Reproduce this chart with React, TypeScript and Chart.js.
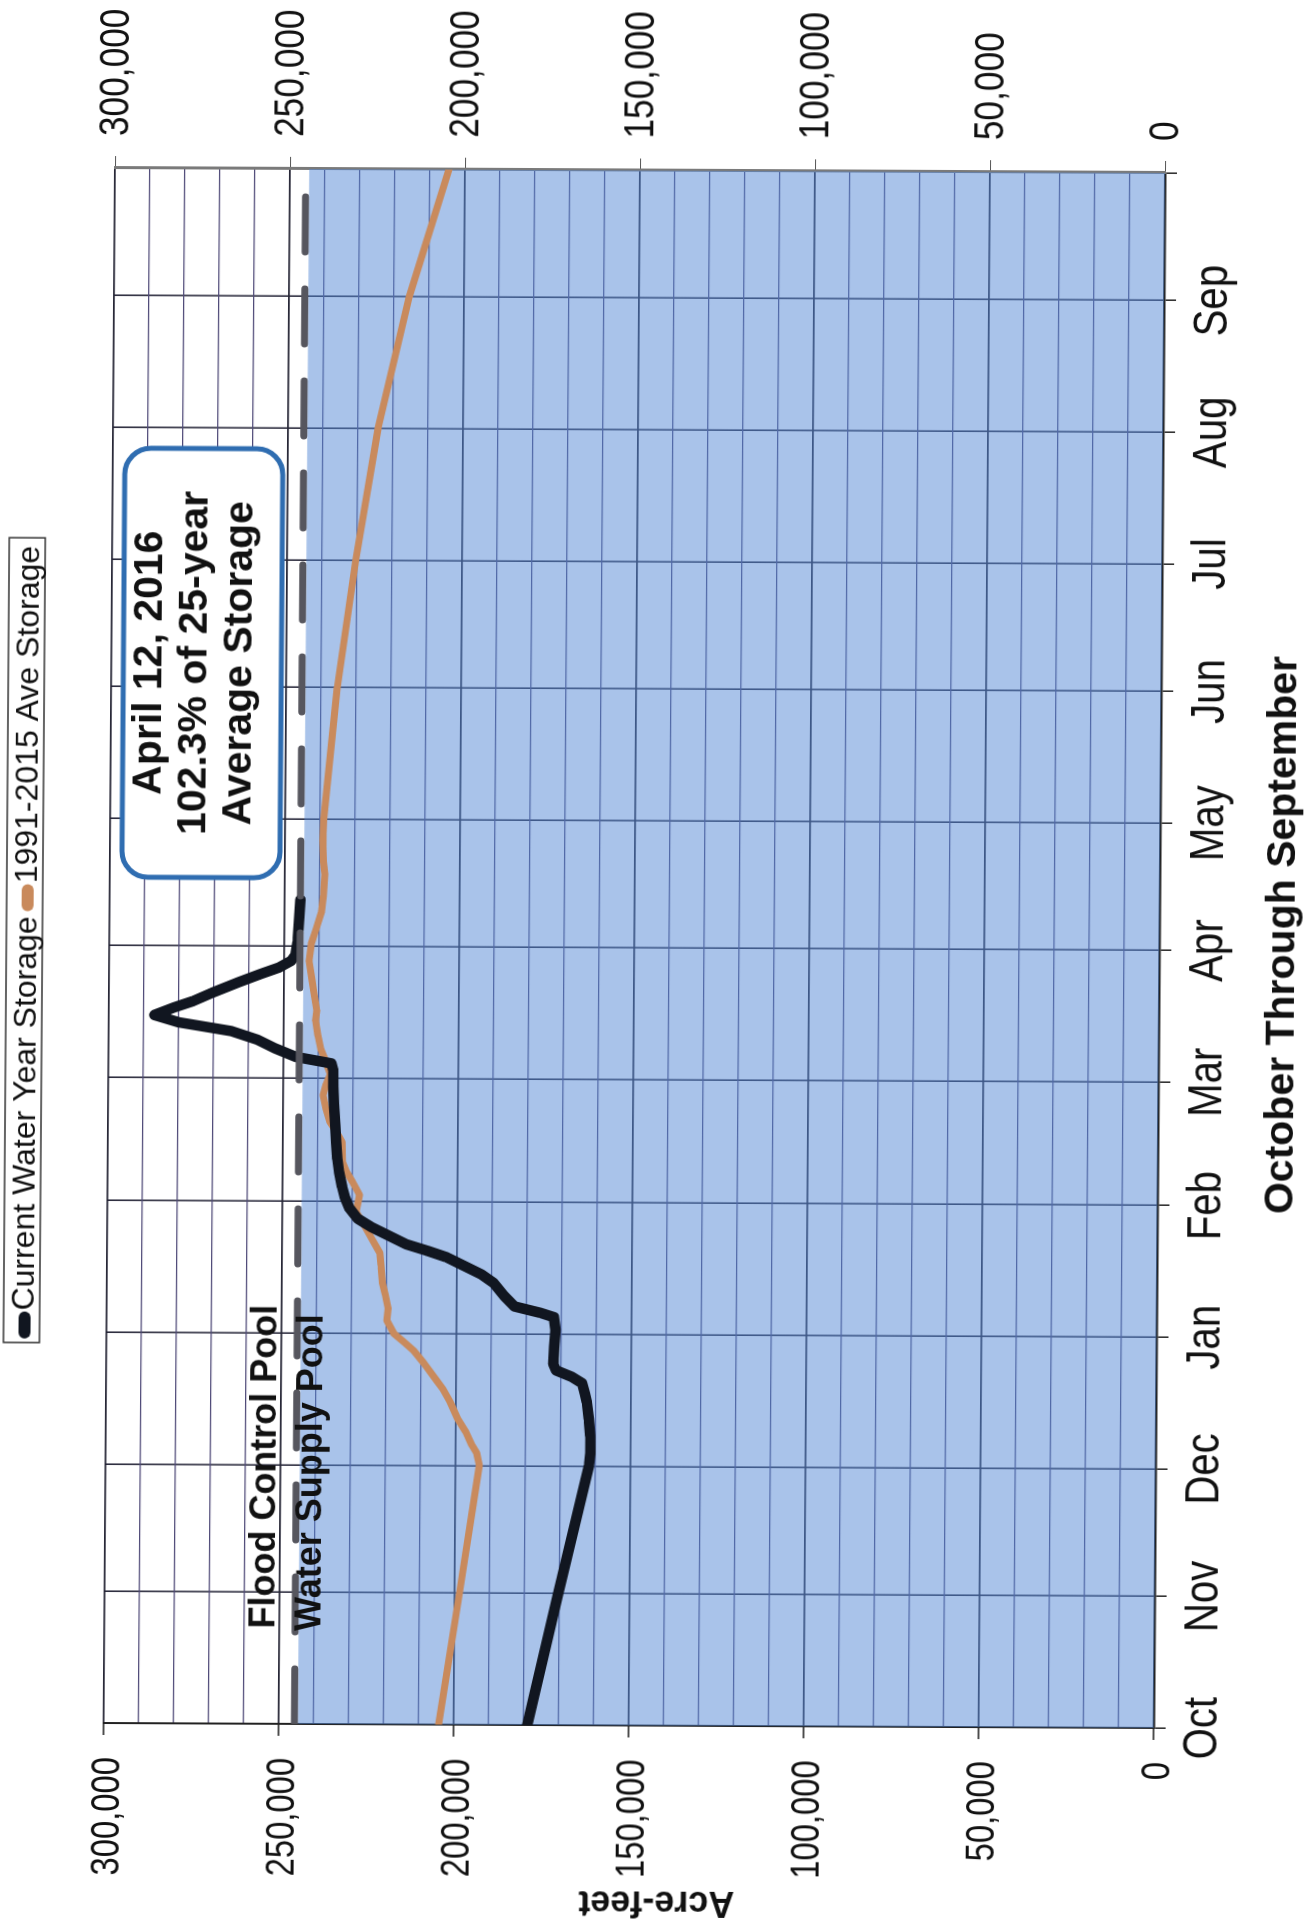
import { useEffect, useRef } from "react";
import { Chart, registerables } from "chart.js";

Chart.register(...registerables);

// ---- Data ----
// x = day of the water year (0 = Oct 1, 2015; 366 = Oct 1, 2016)
const monthLabels = ["Oct", "Nov", "Dec", "Jan", "Feb", "Mar", "Apr", "May", "Jun", "Jul", "Aug", "Sep", ""];
const monthStartDays = [0, 31, 61, 92, 123, 152, 183, 213, 244, 274, 305, 336, 366];

const currentDays = [
  0, 31, 61, 64, 68, 72, 76, 78, 80.5, 82, 83.5, 85, 89, 93, 96, 97, 98.5, 101, 104, 106, 108, 110,
  111.5, 113, 115, 117, 119, 121.5, 124, 126.5, 130, 133, 137, 141, 146, 150, 154, 155.5, 157, 159,
  161, 163, 165, 166.7, 168.5, 170, 172, 174.5, 176.5, 178, 179.6, 181, 184, 188, 191, 194,
];
const currentStorage = [
  179000, 170400, 161900, 161500, 161600, 162000, 162600, 163200, 164000, 167000, 171500, 172300,
  172100, 171700, 172200, 176000, 183500, 186500, 189500, 193000, 198000, 203000, 208500, 214500,
  219500, 224500, 228500, 230900, 232200, 233000, 233900, 234400, 234800, 235100, 235500, 235700,
  235800, 236300, 246500, 252500, 257500, 265000, 280000, 287000, 281400, 276000, 270500, 263000,
  256600, 251500, 248000, 246800, 246200, 245900, 245700, 245500,
];

const averageDays = [
  0, 31, 61, 64, 66, 69, 72, 76, 79, 81, 85, 88, 90, 92, 95, 98, 101, 104, 108, 111, 114, 116.6,
  120.6, 124.6, 127.6, 130, 132.3, 137, 139.5, 141.7, 145, 148, 150.5, 153, 156, 159, 162, 165.5,
  168, 171.8, 175, 179.6, 183.6, 187, 191.3, 195, 200, 203, 208, 213, 244, 274, 305, 336, 366,
];
const averageStorage = [
  204300, 198600, 193200, 194000, 195500, 197200, 199500, 201700, 203800, 205600, 209200, 212200,
  215000, 217900, 219900, 219600, 220400, 221300, 221700, 222100, 224200, 226000, 228900, 228000,
  230000, 231800, 232900, 233100, 234800, 236600, 237800, 238600, 237800, 236600, 237900, 239400,
  240200, 240900, 240600, 241400, 242000, 242900, 242300, 241000, 239400, 238900, 238600, 239000,
  239200, 239000, 235400, 230400, 224300, 215700, 204600,
];

const poolDays = [0, 366];
const waterSupplyPoolTop = [244500, 244500];
const floodControlLevel = [245500, 245500];

const seriesLabels = ["Current Water Year Storage", "1991-2015 Ave Storage"];
const seriesColors = ["#111620", "#c98a5c"];
const calloutLines = ["April 12, 2016", "102.3% of 25-year", "Average Storage"];
const poolLabels = ["Flood Control Pool", "Water Supply Pool"];
const xTitle = "October Through September";
const yTitle = "Acre-feet";

// annotation anchors in data coordinates
const calloutAnchor = { day: 249.6, value: 274000 };
const floodLabelAnchor = { day: 22.4, value: 251400 };
const waterLabelAnchor = { day: 21.9, value: 238300 };

const FONT = '"Liberation Sans", Arial, Helvetica, sans-serif';
const CONDENSE = 0.82; // tick labels use a narrow face
const W = 1925;
const H = 1320;

const toPoints = (xs: number[], ys: number[]) => xs.map((x, i) => ({ x, y: ys[i] }));
const isMajor = (v: number) => Math.round(v) % 50000 === 0;
const fmt = (v: number) => Math.round(v).toLocaleString("en-US");

// tick labels (condensed, Arial Narrow look) and axis titles
const axisTextPlugin = {
  id: "axisText",
  afterDraw(chart: any) {
    const { ctx } = chart;
    const { x, y, y2 } = chart.scales;
    const put = (text: string, px: number, py: number, align: CanvasTextAlign) => {
      ctx.save();
      ctx.translate(px, py);
      ctx.scale(CONDENSE, 1);
      ctx.textAlign = align;
      ctx.textBaseline = "middle";
      ctx.fillText(text, 0, 0);
      ctx.restore();
    };
    ctx.save();
    ctx.fillStyle = "#111";
    ctx.font = `49px ${FONT}`;
    x.ticks.forEach((t: any) => {
      const i = monthStartDays.indexOf(t.value);
      if (i >= 0 && monthLabels[i]) put(monthLabels[i], x.getPixelForValue(t.value), x.top + 49, "center");
    });
    ctx.font = `40px ${FONT}`;
    y.ticks.forEach((t: any) => {
      if (isMajor(t.value)) put(fmt(t.value), y.right - 34, y.getPixelForValue(t.value) + 5, "right");
    });
    ctx.font = `43px ${FONT}`;
    y2.ticks.forEach((t: any) => {
      if (isMajor(t.value)) put(fmt(t.value), y2.left + 32, y2.getPixelForValue(t.value) + 1, "left");
    });
    // x-axis title
    ctx.font = `bold 41px ${FONT}`;
    ctx.textAlign = "center";
    ctx.textBaseline = "alphabetic";
    ctx.fillText(xTitle, (x.left + x.right) / 2 + 16, 1300);
    // y-axis title (rotated)
    ctx.font = `bold 36px ${FONT}`;
    ctx.save();
    ctx.translate(26, (y.top + y.bottom) / 2 + 29);
    ctx.rotate(-Math.PI / 2);
    ctx.textBaseline = "middle";
    ctx.fillText(yTitle, 0, 0);
    ctx.restore();
    ctx.restore();
  },
};

const legendPlugin = {
  id: "boxLegend",
  afterDraw(chart: any) {
    const { ctx, chartArea } = chart;
    ctx.save();
    ctx.font = `32px ${FONT}`;
    const widths = seriesLabels.map((t) => ctx.measureText(t).width);
    const markerLen = 27, padL = 4, gap = 1, itemGap = 5, padR = 8;
    const total = padL + padR + widths.reduce((a, w) => a + markerLen + gap + w, 0) + itemGap;
    const cx = (chartArea.left + chartArea.right) / 2 + 5;
    const left = cx - total / 2;
    const top = 12, h = 36;
    ctx.fillStyle = "#fff";
    ctx.fillRect(left, top, total, h);
    ctx.strokeStyle = "#333";
    ctx.lineWidth = 1.5;
    ctx.strokeRect(left, top, total, h);
    let xx = left + padL;
    seriesLabels.forEach((label, i) => {
      ctx.fillStyle = seriesColors[i];
      ctx.beginPath();
      ctx.roundRect(xx, top + 15, markerLen, 12, 6);
      ctx.fill();
      xx += markerLen + gap;
      ctx.fillStyle = "#111";
      ctx.textBaseline = "alphabetic";
      ctx.textAlign = "left";
      ctx.fillText(label, xx, top + 30);
      xx += widths[i] + itemGap;
    });
    ctx.restore();
  },
};

const annotationPlugin = {
  id: "annotations",
  afterDatasetsDraw(chart: any) {
    const { ctx } = chart;
    const xs = chart.scales.x;
    const ys = chart.scales.y;
    ctx.save();
    const cx = xs.getPixelForValue(calloutAnchor.day);
    const cy = ys.getPixelForValue(calloutAnchor.value);
    const w = 429, h = 158;
    ctx.beginPath();
    ctx.roundRect(cx - w / 2, cy - h / 2, w, h, 26);
    ctx.fillStyle = "#ffffff";
    ctx.fill();
    ctx.lineWidth = 5;
    ctx.strokeStyle = "#2f6db1";
    ctx.stroke();
    ctx.fillStyle = "#111";
    ctx.font = `bold 41px ${FONT}`;
    ctx.textAlign = "center";
    ctx.textBaseline = "alphabetic";
    const offsets = [-41, 4, 49];
    calloutLines.forEach((t, i) => ctx.fillText(t, cx, cy + offsets[i]));
    ctx.font = `bold 36px ${FONT}`;
    ctx.textAlign = "left";
    ctx.fillText(poolLabels[0], xs.getPixelForValue(floodLabelAnchor.day), ys.getPixelForValue(floodLabelAnchor.value));
    ctx.fillText(poolLabels[1], xs.getPixelForValue(waterLabelAnchor.day), ys.getPixelForValue(waterLabelAnchor.value));
    ctx.restore();
  },
};

export default function App() {
  const ref = useRef<HTMLCanvasElement>(null);

  useEffect(() => {
    document.body.style.margin = "0";
    const chart = new Chart(ref.current as HTMLCanvasElement, {
      type: "line",
      data: {
        datasets: [
          {
            label: "Flood control level",
            data: toPoints(poolDays, floodControlLevel),
            borderColor: "#56565e",
            borderWidth: 7,
            borderDash: [55, 37],
            borderCapStyle: "round",
            pointRadius: 0,
            fill: false,
            order: 0,
          },
          {
            label: seriesLabels[0],
            data: toPoints(currentDays, currentStorage),
            borderColor: seriesColors[0],
            borderWidth: 10.5,
            borderJoinStyle: "round",
            borderCapStyle: "round",
            pointRadius: 0,
            fill: false,
            order: 1,
          },
          {
            label: seriesLabels[1],
            data: toPoints(averageDays, averageStorage),
            borderColor: seriesColors[1],
            borderWidth: 7,
            borderJoinStyle: "round",
            borderCapStyle: "round",
            pointRadius: 0,
            fill: false,
            order: 2,
          },
          {
            label: "Water Supply Pool",
            data: toPoints(poolDays, waterSupplyPoolTop),
            borderWidth: 0,
            borderColor: "rgba(0,0,0,0)",
            backgroundColor: "rgba(84,136,214,0.5)",
            pointRadius: 0,
            fill: "origin",
            order: 3,
          },
        ],
      },
      options: {
        responsive: false,
        animation: false,
        devicePixelRatio: 1,
        events: [],
        layout: { padding: { top: 115, left: 0, right: 0, bottom: 0 } },
        font: { family: FONT },
        plugins: {
          legend: { display: false },
          tooltip: { enabled: false },
        },
        scales: {
          x: {
            type: "linear",
            position: "bottom",
            min: 0,
            max: 366,
            afterBuildTicks: (s: any) => {
              s.ticks = monthStartDays.map((v) => ({ value: v }));
            },
            afterFit: (s: any) => {
              s.height = H - 1165;
            },
            ticks: { display: false, autoSkip: false },
            grid: { color: "#2b2b3d", lineWidth: 1.6, tickLength: 12, tickColor: "#333" },
            border: { color: "#222", width: 2.5 },
          },
          y: {
            type: "linear",
            position: "left",
            min: 0,
            max: 300000,
            afterFit: (s: any) => {
              s.width = 202;
            },
            ticks: { display: false, stepSize: 10000, autoSkip: false },
            grid: {
              color: (c: any) => (c.tick && isMajor(c.tick.value) ? "#262636" : "#4f4a78"),
              lineWidth: (c: any) => (c.tick && isMajor(c.tick.value) ? 1.7 : 1.3),
              tickLength: 12,
              tickColor: (c: any) => (c.tick && isMajor(c.tick.value) ? "#333" : "rgba(0,0,0,0)"),
            },
            border: { color: "#222", width: 2 },
          },
          y2: {
            type: "linear",
            position: "right",
            min: 0,
            max: 300000,
            afterFit: (s: any) => {
              s.width = 168;
            },
            ticks: { display: false, stepSize: 50000, autoSkip: false },
            grid: { drawOnChartArea: false, tickLength: 12, tickColor: "#555" },
            border: { color: "#7a7a7a", width: 3 },
          },
        },
      } as any,
      plugins: [annotationPlugin, axisTextPlugin, legendPlugin],
    });
    return () => chart.destroy();
  }, []);

  return (
    <div
      style={{
        position: "absolute",
        left: 0,
        top: 0,
        width: 1307,
        height: 1925,
        overflow: "hidden",
        background: "#ffffff",
      }}
    >
      <div
        style={{
          position: "absolute",
          left: 0,
          top: 0,
          width: 1307,
          height: 1925,
          transformOrigin: "115px 168px",
          transform: "matrix(1, 0.0047, -0.0073, 1, 0, 0)",
        }}
      >
        <div
          style={{
            position: "absolute",
            left: 0,
            top: 0,
            width: W,
            height: H,
            transformOrigin: "0 0",
            transform: `translate(0px, ${W}px) rotate(-90deg)`,
          }}
        >
          <canvas ref={ref} width={W} height={H} style={{ display: "block", width: W, height: H }} />
        </div>
      </div>
    </div>
  );
}
